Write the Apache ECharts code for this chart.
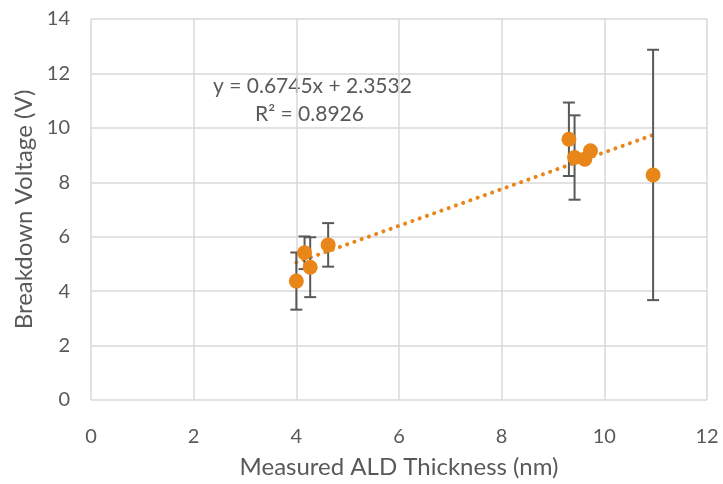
<!DOCTYPE html>
<html>
<head>
<meta charset="utf-8">
<script src="https://cdn.jsdelivr.net/npm/echarts@6/dist/echarts.min.js"></script>
<style>
  html, body { margin: 0; padding: 0; background: #fff; }
  #chart { width: 723px; height: 484px; }
</style>
</head>
<body>
<div id="chart"></div>
<script>
  // measured data
  const thickness = [4.0, 4.16, 4.27, 4.62, 9.31, 9.42, 9.62, 9.73, 10.95];
  const voltage = [4.37, 5.41, 4.88, 5.70, 9.58, 8.91, 8.85, 9.16, 8.27];
  const voltageErr = [1.05, 0.6, 1.1, 0.8, 1.35, 1.55, 0, 0, 4.6];

  // linear fit shown on the chart
  const slope = 0.6745;
  const intercept = 2.3532;
  const rSquared = 0.8926;

  const xTicks = [0, 2, 4, 6, 8, 10, 12];
  const yTicks = [0, 2, 4, 6, 8, 10, 12, 14];

  const orange = "#E8861A";
  const textColor = "#595959";
  const font = "Lato, 'Open Sans', sans-serif";

  const points = thickness.map((x, i) => [x, voltage[i]]);
  const errData = thickness.map((x, i) => [x, voltage[i] - voltageErr[i], voltage[i] + voltageErr[i]]);
  const xMin = Math.min(...thickness), xMax = Math.max(...thickness);
  const trend = [[xMin, slope * xMin + intercept], [xMax, slope * xMax + intercept]];

  const chart = echarts.init(document.getElementById("chart"));
  chart.setOption({
    animation: false,
    grid: {left: 91, right: 16, top: 19, bottom: 84},
    xAxis: {
      type: "value", min: xTicks[0], max: xTicks[xTicks.length - 1], interval: 2,
      name: "Measured ALD Thickness (nm)", nameLocation: "middle", nameGap: 55,
      nameTextStyle: {color: textColor, fontSize: 24, fontFamily: font},
      axisLine: {show: false}, axisTick: {show: false},
      axisLabel: {color: textColor, fontSize: 20, fontFamily: font, margin: 27},
      splitLine: {lineStyle: {color: "#D9D9D9", width: 1.5}}
    },
    yAxis: {
      type: "value", min: yTicks[0], max: yTicks[yTicks.length - 1], interval: 2,
      name: "Breakdown Voltage (V)", nameLocation: "middle", nameGap: 55,
      nameTextStyle: {color: textColor, fontSize: 24, fontFamily: font},
      axisLine: {show: false}, axisTick: {show: false},
      axisLabel: {color: textColor, fontSize: 20, fontFamily: font, margin: 21},
      splitLine: {lineStyle: {color: "#D9D9D9", width: 1.5}}
    },
    graphic: [
      {type: "text", left: 213, top: 76, style: {text: "y = " + slope + "x + " + intercept, fill: textColor, font: "21px " + font}},
      {type: "text", left: 255, top: 104, style: {text: "R² = " + rSquared, fill: textColor, font: "21px " + font}}
    ],
    series: [
      {
        type: "line", data: trend, symbol: "none", z: 1,
        lineStyle: {color: orange, width: 4, type: [0.1, 7.6], cap: "round"}
      },
      {
        type: "custom", z: 2, data: errData,
        renderItem: function (params, api) {
          const lo = api.coord([api.value(0), api.value(1)]);
          const hi = api.coord([api.value(0), api.value(2)]);
          const cap = 6;
          const style = {stroke: "#595959", lineWidth: 2};
          return {
            type: "group",
            children: [
              {type: "line", shape: {x1: lo[0], y1: lo[1], x2: hi[0], y2: hi[1]}, style: style},
              {type: "line", shape: {x1: lo[0] - cap, y1: lo[1], x2: lo[0] + cap, y2: lo[1]}, style: style},
              {type: "line", shape: {x1: hi[0] - cap, y1: hi[1], x2: hi[0] + cap, y2: hi[1]}, style: style}
            ]
          };
        }
      },
      {
        type: "scatter", data: points, symbolSize: 15, z: 3,
        itemStyle: {color: orange, opacity: 1}
      }
    ]
  });
</script>
</body>
</html>
